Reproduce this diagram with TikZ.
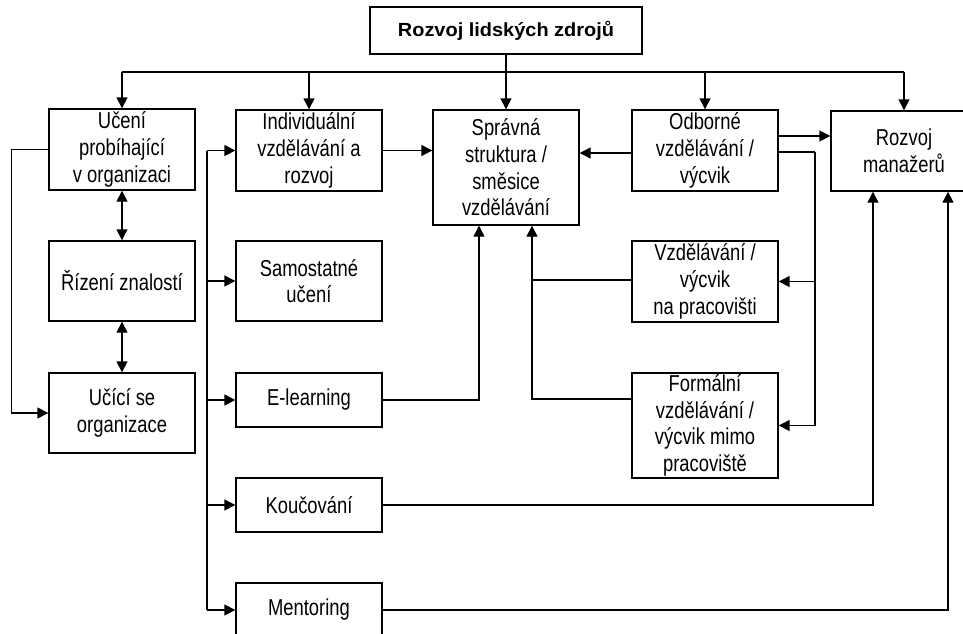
\documentclass[tikz,border=0pt]{standalone}
\usepackage{fontspec}
\setmainfont{Liberation Sans}[FakeStretch=0.8]
\newfontfamily\titlefont{Liberation Sans}[FakeStretch=1.05]
\usetikzlibrary{arrows.meta,calc}
\begin{document}
\begin{tikzpicture}[x=1pt,y=-1pt,
  box/.style={draw, line width=1.4pt, minimum width=146pt, align=center, inner sep=0pt,
    font=\fontsize{23}{26.7}\selectfont},
  conn/.style={line width=1.4pt},
  arr/.style={conn, -{Triangle[length=11pt,width=11pt]}},
  dbl/.style={conn, {Triangle[length=11pt,width=11pt]}-{Triangle[length=11pt,width=11pt]}}
]
\useasboundingbox (0,0) rectangle (963,633);
% nodes
\node[box, minimum width=272pt, minimum height=47pt, font=\titlefont\bfseries\fontsize{19}{22}\selectfont]
  (top) at (506,30.5) {Rozvoj lidských zdrojů};
\node[box, minimum height=81pt] (ucen) at (122,149.5) {Učení\\probíhající\\v organizaci};
\node[box, minimum height=81pt] (indiv) at (309,150.5) {Individuální\\vzdělávání a\\rozvoj};
\node[box, minimum height=115pt] (sprav) at (506,167.5) {Správná\\struktura /\\směsice\\vzdělávání};
\node[box, minimum height=81pt] (odb) at (705,150.5) {Odborné\\vzdělávání /\\výcvik};
\node[box, minimum height=80pt] (rozm) at (904,151) {Rozvoj\\manažerů};
\node[box, minimum height=80pt] (rizeni) at (122,281) {Řízení znalostí};
\node[box, minimum height=80pt] (ucici) at (122,413) {Učící se\\organizace};
\node[box, minimum height=80pt] (samo) at (309,281) {Samostatné\\učení};
\node[box, minimum height=54pt] (elearn) at (309,400) {E-learning};
\node[box, minimum height=81pt] (vzdel) at (705,281.5) {Vzdělávání /\\výcvik\\na pracovišti};
\node[box, minimum height=105pt] (formal) at (705,425.5) {Formální\\vzdělávání /\\výcvik mimo\\pracoviště};
\node[box, minimum height=54pt] (kouc) at (309,505) {Koučování};
\node[box, minimum height=54pt] (mentor) at (309,610) {Mentoring};
% coordinates
\coordinate (busL) at (122,72);
\coordinate (busR) at (904,72);
\coordinate (trunkTop) at (207,150.5);
\coordinate (trunkBot) at (207,610);
\coordinate (odbR) at (815,152);
\coordinate (sprL) at ([xshift=-27pt]sprav.south);
\coordinate (sprR) at ([xshift=26pt]sprav.south);
% top bus
\draw[arr] (top.south) -- (sprav.north);
\draw[conn] (busL) -- (busR);
\draw[arr] (busL) -- (ucen.north);
\draw[arr] (indiv.north |- busL) -- (indiv.north);
\draw[arr] (odb.north |- busL) -- (odb.north);
\draw[arr] (busR) -- (rozm.north);
% left column
\draw[dbl] (ucen.south) -- (rizeni.north);
\draw[dbl] (rizeni.south) -- (ucici.north);
\draw[arr] (ucen.west) -- ++(-37,0) |- (ucici.west);
% trunk
\draw[conn] (trunkTop) -- (trunkBot);
\draw[arr] (trunkTop) -- (indiv.west);
\draw[arr] (samo.west -| trunkTop) -- (samo.west);
\draw[arr] (elearn.west -| trunkTop) -- (elearn.west);
\draw[arr] (kouc.west -| trunkTop) -- (kouc.west);
\draw[arr] (mentor.west -| trunkTop) -- (mentor.west);
% into Správná
\draw[arr] (indiv.east) -- (indiv.east -| sprav.west);
\draw[arr] ([yshift=-2.5pt]odb.west) -- ([yshift=-2.5pt]odb.west -| sprav.east);
\draw[arr] (elearn.east) -| (sprL);
\draw[arr] ([yshift=26.5pt]formal.west) -| (sprR);
\draw[conn] ([yshift=1.5pt]vzdel.west) -- ([yshift=1.5pt]vzdel.west -| sprR);
% Odborné outputs
\draw[arr] ([yshift=14.5pt]odb.east) -- ([yshift=14.5pt]odb.east -| rozm.west);
\draw[conn] (odb.east |- odbR) -- (odbR);
\draw[arr] (odbR) |- (formal.east);
\draw[arr] (vzdel.east -| odbR) -- (vzdel.east);
% into Rozvoj manažerů
\draw[arr] (kouc.east) -| ([xshift=-31pt]rozm.south);
\draw[arr] (mentor.east) -| ([xshift=44pt]rozm.south);
\end{tikzpicture}
\end{document}
